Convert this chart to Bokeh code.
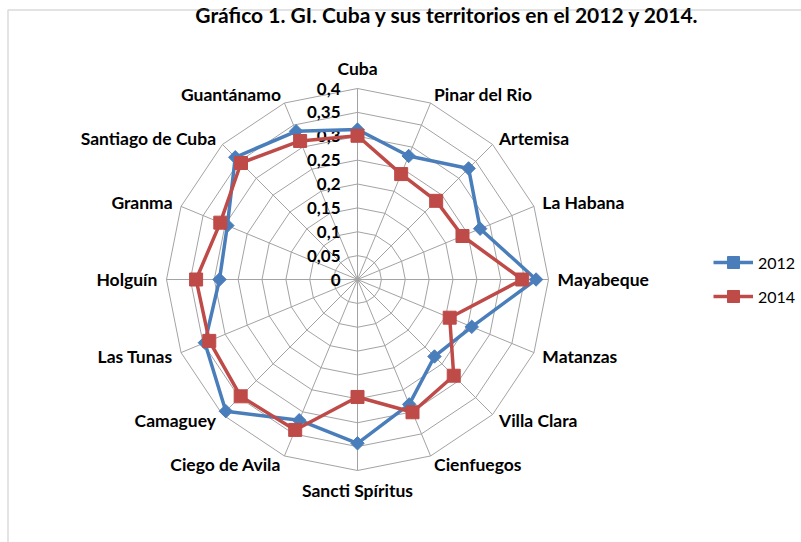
import math
from bokeh.plotting import figure
from bokeh.models import (Range1d, ColumnDataSource, BoxAnnotation, Legend, LegendItem,
                          GlobalInlineStyleSheet)
from bokeh.core.properties import value
from bokeh.embed import file_html
from bokeh.resources import INLINE

# ---------------- data ----------------
categories = ["Cuba", "Pinar del Rio", "Artemisa", "La Habana", "Mayabeque", "Matanzas",
              "Villa Clara", "Cienfuegos", "Sancti Spíritus", "Ciego de Avila", "Camaguey",
              "Las Tunas", "Holguín", "Granma", "Santiago de Cuba", "Guantánamo"]
values_2012 = [0.314, 0.280, 0.329, 0.278, 0.374, 0.259, 0.228, 0.283,
               0.343, 0.319, 0.390, 0.346, 0.289, 0.295, 0.362, 0.336]
values_2014 = [0.301, 0.239, 0.233, 0.238, 0.345, 0.209, 0.285, 0.301,
               0.246, 0.341, 0.346, 0.336, 0.338, 0.311, 0.345, 0.314]
tick_values = [0, 0.05, 0.1, 0.15, 0.2, 0.25, 0.3, 0.35, 0.4]
tick_labels = ["0", "0,05", "0,1", "0,15", "0,2", "0,25", "0,3", "0,35", "0,4"]
series_names = ["2012", "2014"]
title_text = "Gráfico 1. GI. Cuba y sus territorios en el 2012 y 2014."

# ---------------- layout ----------------
W, H = 801, 542
PX = 477.5          # pixels per unit value
CX, CY = 357, 279   # centre of radar in canvas pixels
R_MAX = 0.4
LABEL_R = 0.419

BLUE = "#4A7EBB"
RED = "#BE4B48"
GRID = "#a3a3a3"
FONT = "Lato"

n = len(categories)
angles = [2 * math.pi * i / n for i in range(n)]

p = figure(width=W, height=H, output_backend="svg", toolbar_location=None,
           x_range=Range1d(-CX / PX, (W - CX) / PX),
           y_range=Range1d(-(H - CY) / PX, CY / PX),
           min_border=0, min_border_left=0, min_border_right=0,
           min_border_top=0, min_border_bottom=0)
p.axis.visible = False
p.grid.visible = False
p.outline_line_color = None
p.stylesheets = [GlobalInlineStyleSheet(css="body{margin:0;overflow:hidden;}")]

# chart-area border
p.add_layout(BoxAnnotation(left=(7.5 - CX) / PX, top=(CY - 9.5) / PX,
                           right=(W + 20 - CX) / PX, bottom=-(H + 20 - CY) / PX,
                           fill_alpha=0, line_color="#868686", line_width=1.5))

# ring grid
ring_xs, ring_ys = [], []
for v in tick_values[1:]:
    ring_xs.append([v * math.sin(a) for a in angles] + [0.0])
    ring_ys.append([v * math.cos(a) for a in angles] + [v])
p.multi_line(ring_xs, ring_ys, line_color=GRID, line_width=1)

# spokes
p.segment(x0=[0] * n, y0=[0] * n,
          x1=[R_MAX * math.sin(a) for a in angles],
          y1=[R_MAX * math.cos(a) for a in angles],
          line_color=GRID, line_width=1)

# tick labels
p.text(x=[-17 / PX] * len(tick_values), y=tick_values, text=tick_labels,
       text_align="right", text_baseline="middle", text_font=value(FONT),
       text_font_style="bold", text_font_size="17px", text_color="#000000")

# category labels
lx, ly, la, lb = [], [], [], []
for c, a in zip(categories, angles):
    s, co = math.sin(a), math.cos(a)
    lx.append(LABEL_R * s)
    ly.append(LABEL_R * co)
    la.append("left" if s > 0.1 else ("right" if s < -0.1 else "center"))
    lb.append("bottom" if co > 0.99 else ("top" if co < -0.99 else "middle"))
lab_src = ColumnDataSource(dict(x=lx, y=ly, t=categories, a=la, b=lb))
p.text(x="x", y="y", text="t", text_align="a", text_baseline="b", source=lab_src,
       text_font=value(FONT), text_font_style="bold", text_font_size="17.5px",
       text_color="#000000")

# series
def closed(vals):
    xs = [v * math.sin(a) for v, a in zip(vals, angles)]
    ys = [v * math.cos(a) for v, a in zip(vals, angles)]
    return xs, ys

x12, y12 = closed(values_2012)
x14, y14 = closed(values_2014)

l12 = p.line(x12 + x12[:1], y12 + y12[:1], line_color=BLUE, line_width=3.5, line_join="round")
m12 = p.scatter(x12, y12, marker="square", angle=math.pi / 4, size=9.5,
                fill_color=BLUE, line_color=BLUE)
l14 = p.line(x14 + x14[:1], y14 + y14[:1], line_color=RED, line_width=3.5, line_join="round")
m14 = p.scatter(x14, y14, marker="square", size=13, fill_color=RED, line_color=RED)

legend = Legend(items=[LegendItem(label=series_names[0], renderers=[l12, m12]),
                       LegendItem(label=series_names[1], renderers=[l14, m14])],
                location=(713, 231), orientation="vertical",
                glyph_width=40, glyph_height=30, spacing=4, padding=0, margin=0,
                label_standoff=5, border_line_alpha=0, background_fill_alpha=0,
                label_text_font=FONT, label_text_font_size="16px",
                label_text_color="#000000")
p.add_layout(legend)

# title (kept fully visible at the top)
p.text(x=[(447 - CX) / PX], y=[(CY - 14) / PX], text=[title_text],
       text_align="center", text_baseline="middle", text_font=value(FONT),
       text_font_style="bold", text_font_size="21px", text_color="#000000",
       background_fill_color="#ffffff", padding=2)

open("out.html", "w").write(file_html(p, INLINE))
